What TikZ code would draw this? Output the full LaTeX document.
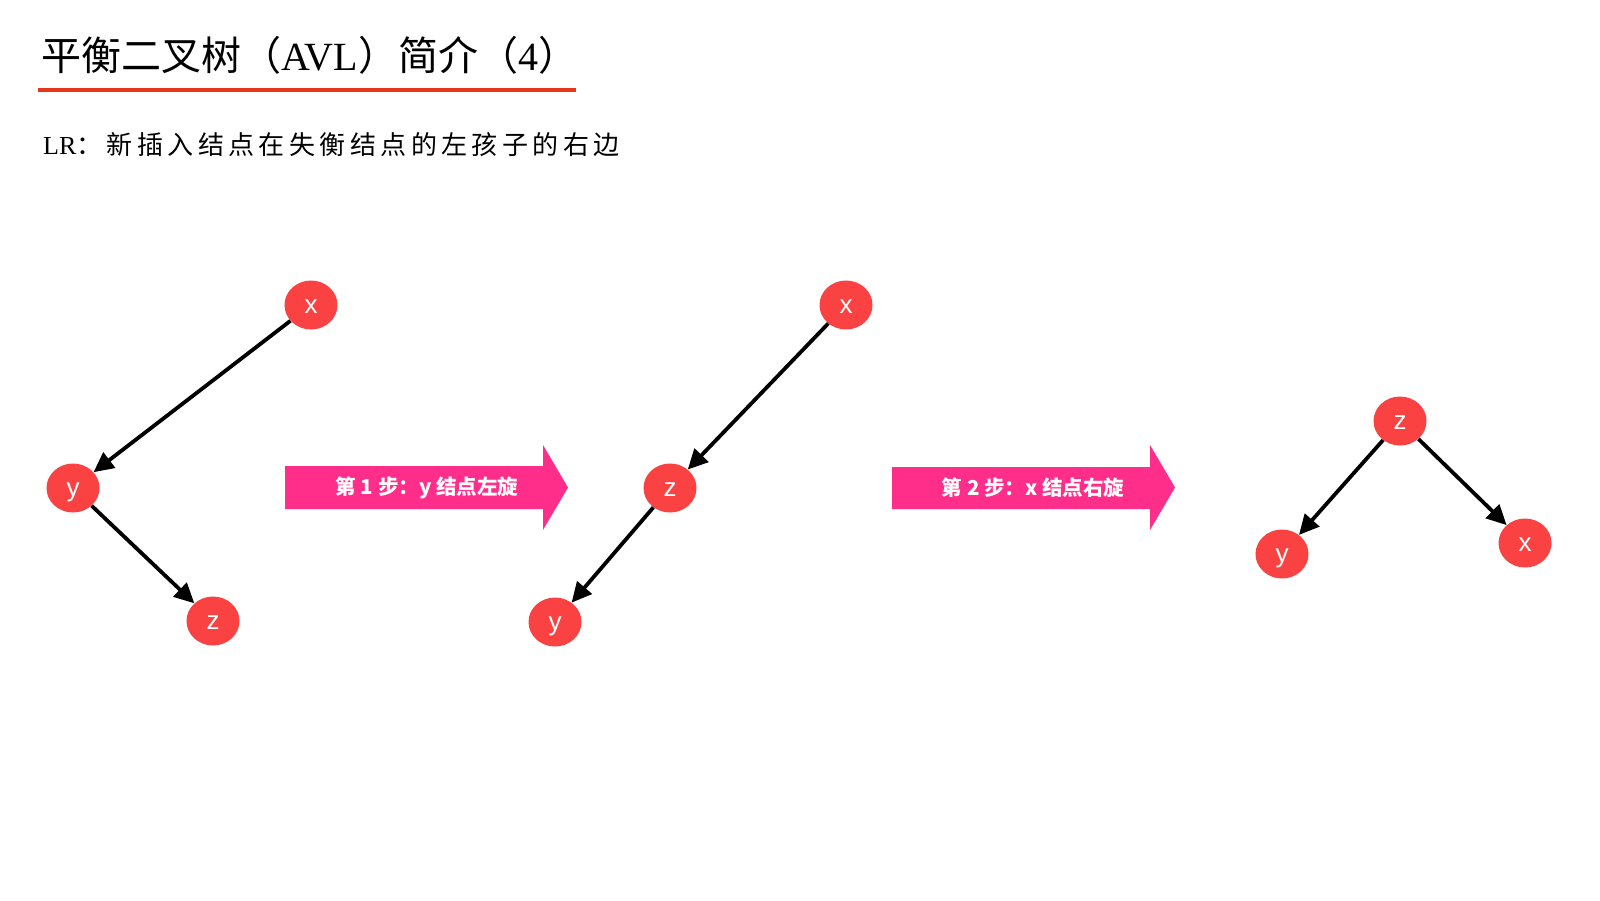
\documentclass[tikz,border=0pt]{standalone}
\usepackage{fontspec}
\setmainfont{Liberation Serif}
\newfontfamily\cjk{Noto Sans CJK SC}
\newfontfamily\cjksp[LetterSpace=17]{Noto Sans CJK SC}
\newfontfamily\lsans{Liberation Sans}
\usetikzlibrary{arrows.meta,shapes.geometric}
\definecolor{nodered}{RGB}{251,66,66}
\definecolor{arrowpink}{RGB}{254,46,138}
\definecolor{linered}{RGB}{232,52,28}
\begin{document}
\begin{tikzpicture}[x=1pt,y=-1pt,
  tnode/.style={ellipse, fill=nodered, minimum width=53pt, minimum height=49pt, inner sep=0pt,
    text=white, text height=17pt, text depth=0pt, font=\lsans\fontsize{26}{26}\selectfont},
  treelink/.style={-{Triangle[length=20pt,width=19pt]}, line width=3.8pt, black},
  bigarrow/.style={fill=arrowpink},
  steptext/.style={text=white, inner sep=0pt, font=\cjk\bfseries\fontsize{20.5}{24}\selectfont}
]
\useasboundingbox (0,0) rectangle (1600,900);
\fill[white] (0,0) rectangle (1600,900);

% title
\node[anchor=west, inner sep=0pt] (title) at (41,55)
  {\fontsize{40}{48}\selectfont\cjk 平衡二叉树（{\rmfamily AVL}）简介（{\rmfamily 4}）};
\coordinate (ulA) at (38,90);
\coordinate (ulB) at (576,90);
\draw[linered, line width=4pt] (ulA) -- (ulB);

% subtitle
\node[anchor=west, inner sep=0pt] (sub) at (43,145)
  {\fontsize{26}{30}\selectfont LR\cjksp ：新插入结点在失衡结点的左孩子的右边};

% tree 1
\node[tnode] (x1) at (311,305) {x};
\node[tnode] (y1) at (73,488) {y};
\node[tnode] (z1) at (213,621) {z};
\draw[treelink] (x1) -- (y1);
\draw[treelink] (y1) -- (z1);

% step arrow 1
\fill[bigarrow] (285,466) -- (543,466) -- (543,445) -- (568,487.5) -- (543,530) -- (543,509) -- (285,509) -- cycle;
\node[steptext] (s1) at (427,488) {第 1 步：y 结点左旋};

% tree 2
\node[tnode] (x2) at (846,305) {x};
\node[tnode] (z2) at (670,488) {z};
\node[tnode] (y2) at (555,622) {y};
\draw[treelink] (x2) -- (z2);
\draw[treelink] (z2) -- (y2);

% step arrow 2
\fill[bigarrow] (892,467) -- (1150,467) -- (1150,445) -- (1175,487.5) -- (1150,530) -- (1150,509) -- (892,509) -- cycle;
\node[steptext] (s2) at (1033,488) {第 2 步：x 结点右旋};

% tree 3
\node[tnode] (z3) at (1400,421) {z};
\node[tnode] (y3) at (1282,554) {y};
\node[tnode] (x3) at (1525,543) {x};
\draw[treelink] (z3) -- (y3);
\draw[treelink] (z3) -- (x3);
\end{tikzpicture}
\end{document}
